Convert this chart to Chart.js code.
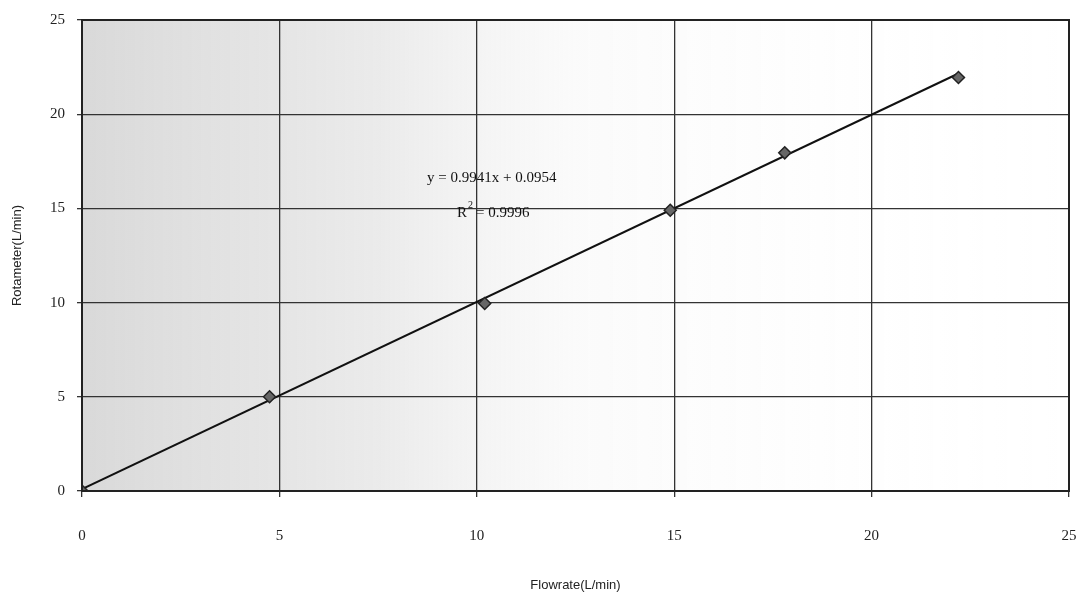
<!DOCTYPE html>
<html>
<head>
<meta charset="utf-8">
<script src="https://cdn.jsdelivr.net/npm/chart.js@4.4.1/dist/chart.umd.min.js"></script>
<style>
    html, body { margin: 0; padding: 0; background: #fff; }
    #wrap { width: 1081px; height: 599px; }
</style>
</head>
<body>
<div id="wrap"><canvas id="calChart" width="1081" height="599"></canvas></div>
<script>
// Calibration points
const flowrate = [0, 4.75, 10.2, 14.9, 17.8, 22.2];
const rotameter = [0, 5, 9.95, 14.9, 17.95, 21.95];

// Trendline ends (as drawn in the picture)
const trendX = [0, 22.2];
const trendY = [0.1, 22.16];

const axisTicks = [0, 5, 10, 15, 20, 25];
const eqText = 'y = 0.9941x + 0.0954';
const r2Text = '= 0.9996';

const serif = '"Liberation Serif", "DejaVu Serif", serif';
const sans = '"Liberation Sans", Arial, sans-serif';

// light shading of the scanned page on the left side
const paperShade = {
    id: 'paperShade',
    beforeDraw(chart) {
        const { ctx, chartArea: a } = chart;
        const g = ctx.createLinearGradient(a.left, 0, a.right, 0);
        g.addColorStop(0, 'rgba(150,150,150,0.36)');
        g.addColorStop(0.3, 'rgba(170,170,170,0.24)');
        g.addColorStop(0.5, 'rgba(200,200,200,0.08)');
        g.addColorStop(1, 'rgba(255,255,255,0)');
        ctx.save();
        ctx.fillStyle = g;
        ctx.fillRect(a.left, a.top, a.right - a.left, a.bottom - a.top);
        ctx.restore();
    }
};

// equation + R² text and outer frame
const trendLabel = {
    id: 'trendLabel',
    afterDraw(chart) {
        const { ctx, chartArea: a, scales } = chart;
        const x = scales.x, y = scales.y;
        ctx.save();
        ctx.fillStyle = '#111';
        ctx.font = '15px ' + serif;
        ctx.textBaseline = 'middle';
        ctx.textAlign = 'left';
        ctx.fillText(eqText, x.getPixelForValue(8.74), y.getPixelForValue(16.6));
        const rx = x.getPixelForValue(9.5), ry = y.getPixelForValue(14.75);
        ctx.fillText('R', rx, ry);
        ctx.font = '10px ' + serif;
        ctx.fillText('2', rx + 11, ry - 8);
        ctx.font = '15px ' + serif;
        ctx.fillText(r2Text, rx + 19, ry);
        ctx.strokeStyle = '#222';
        ctx.lineWidth = 2;
        ctx.strokeRect(a.left, a.top, a.right - a.left, a.bottom - a.top);
        ctx.restore();
    }
};

new Chart(document.getElementById('calChart'), {
    type: 'scatter',
    data: {
        datasets: [
            {
                label: 'Trend',
                data: trendX.map((v, i) => ({ x: v, y: trendY[i] })),
                showLine: true,
                borderColor: '#111',
                borderWidth: 2,
                pointRadius: 0,
                order: 2
            },
            {
                label: 'Rotameter',
                data: flowrate.map((v, i) => ({ x: v, y: rotameter[i] })),
                pointStyle: 'rectRot',
                pointRadius: 6,
                backgroundColor: '#666',
                borderColor: '#222',
                borderWidth: 1.5,
                order: 1
            }
        ]
    },
    options: {
        responsive: false,
        animation: false,
        layout: { padding: { top: 20, right: 12, left: 0, bottom: 0 } },
        plugins: { legend: { display: false }, tooltip: { enabled: false } },
        scales: {
            x: {
                type: 'linear', min: 0, max: 25,
                afterBuildTicks: s => { s.ticks = axisTicks.map(v => ({ value: v })); },
                afterFit: s => { s.height = 108; s.paddingLeft = 0; s.paddingRight = 0; },
                grid: { color: '#333', lineWidth: 1.3, tickLength: 6, drawTicks: true },
                border: { display: false },
                ticks: { padding: 30, color: '#222', font: { family: serif, size: 15 } },
                title: {
                    display: true, text: 'Flowrate(L/min)', color: '#222',
                    font: { family: sans, size: 13 }, padding: { top: 0, bottom: 6 }
                }
            },
            y: {
                type: 'linear', min: 0, max: 25,
                afterBuildTicks: s => { s.ticks = axisTicks.map(v => ({ value: v })); },
                afterFit: s => { s.width = 82; s.paddingTop = 0; s.paddingBottom = 0; },
                grid: { color: '#333', lineWidth: 1.3, tickLength: 5, drawTicks: true },
                border: { display: false },
                ticks: { padding: 12, color: '#222', font: { family: serif, size: 15 } },
                title: {
                    display: true, text: 'Rotameter(L/min)', color: '#222',
                    font: { family: sans, size: 13 }, padding: { top: 10, bottom: 0 }
                }
            }
        }
    },
    plugins: [paperShade, trendLabel]
});
</script>
</body>
</html>
